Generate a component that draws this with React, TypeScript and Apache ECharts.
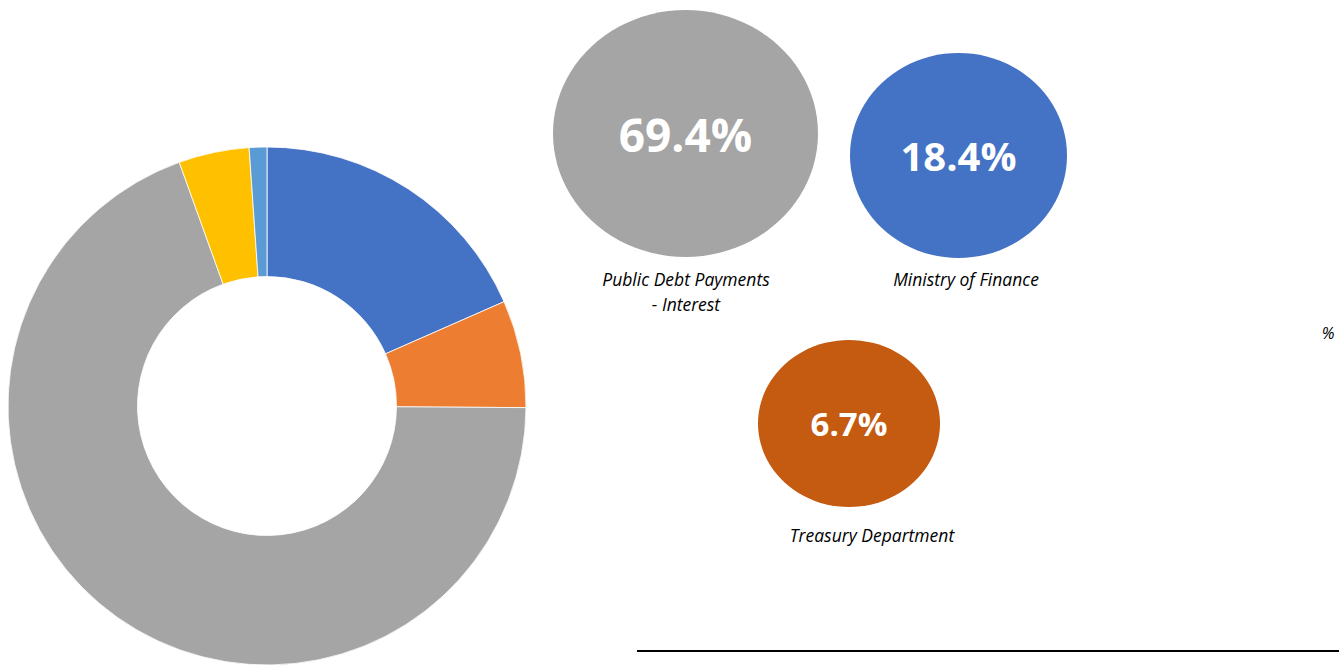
import React, { useEffect, useRef } from "react";
import * as echarts from "echarts";

const sliceNames = ["Ministry of Finance", "Treasury Department", "Public Debt Payments - Interest", "Other A", "Other B"];
const sliceValues = [18.4, 6.7, 69.4, 4.4, 1.1];
const sliceColors = ["#4472C4", "#ED7D31", "#A5A5A5", "#FFC000", "#5B9BD5"];

const bubbleNames = ["Public Debt Payments\n- Interest", "Ministry of Finance", "Treasury Department"];
const bubbleValues = [69.4, 18.4, 6.7];
const bubbleColors = ["#A5A5A5", "#4472C4", "#C55A11"];

export default function App() {
  const ref = useRef<HTMLDivElement>(null);
  useEffect(() => {
    if (!ref.current) return;
    const chart = echarts.init(ref.current, null, { renderer: "svg" });
    const pos = [
      { x: 685.5, y: 133.5, w: 265, h: 247, fs: 46, lx: 686, ly: 291 },
      { x: 958.5, y: 155.5, w: 217, h: 205, fs: 40, lx: 966, ly: 279 },
      { x: 849, y: 423.5, w: 182, h: 167, fs: 33, lx: 872, ly: 535 },
    ];
    const bubbleData = bubbleValues.map((v, i) => ({
      value: [pos[i].x, pos[i].y, v],
      name: bubbleNames[i],
      symbolSize: [pos[i].w, pos[i].h],
      itemStyle: { color: bubbleColors[i], opacity: 1 },
      label: { fontSize: pos[i].fs },
    }));
    const nameData = bubbleNames.map((n, i) => ({
      value: [pos[i].lx, pos[i].ly],
      name: n,
    }));
    chart.setOption({
      animation: false,
      grid: { left: 0, right: 0, top: 0, bottom: 0 },
      xAxis: { type: "value", min: 0, max: 1339, show: false },
      yAxis: { type: "value", min: 0, max: 666, inverse: true, show: false },
      graphic: [
        {
          type: "text",
          x: 1328,
          y: 333,
          style: {
            text: "%",
            fontSize: 16,
            fontStyle: "italic",
            fontFamily: "Open Sans",
            fill: "#000",
            align: "center",
            verticalAlign: "middle",
          },
        },
        {
          type: "line",
          shape: { x1: 637, y1: 651, x2: 1339, y2: 651 },
          style: { stroke: "#000", lineWidth: 2 },
        },
      ],
      series: [
        {
          type: "pie",
          center: [267, 406],
          radius: [129.5, 259],
          startAngle: 90,
          clockwise: true,
          label: { show: false },
          labelLine: { show: false },
          itemStyle: { borderColor: "#ffffff", borderWidth: 0.8 },
          data: sliceValues.map((v, i) => ({
            value: v,
            name: sliceNames[i],
            itemStyle: { color: sliceColors[i] },
          })),
        },
        {
          type: "scatter",
          symbol: "circle",
          data: bubbleData,
          itemStyle: { opacity: 1 },
          label: {
            show: true,
            position: "inside",
            formatter: (p: any) => p.value[2].toFixed(1) + "%",
            color: "#fff",
            fontFamily: "Open Sans",
            fontWeight: "bold",
          },
        },
        {
          type: "scatter",
          symbol: "circle",
          symbolSize: 1,
          data: nameData,
          itemStyle: { color: "rgba(0,0,0,0)", opacity: 1 },
          label: {
            show: true,
            position: "inside",
            formatter: (p: any) => p.name,
            color: "#000",
            fontFamily: "Open Sans",
            fontStyle: "italic",
            fontSize: 17.5,
            lineHeight: 25,
            align: "center",
            verticalAlign: "middle",
          },
        },
      ],
    });
    return () => chart.dispose();
  }, []);
  return (
    <div
      ref={ref}
      style={{ position: "fixed", left: 0, top: 0, width: 1339, height: 666, background: "#fff" }}
    />
  );
}
